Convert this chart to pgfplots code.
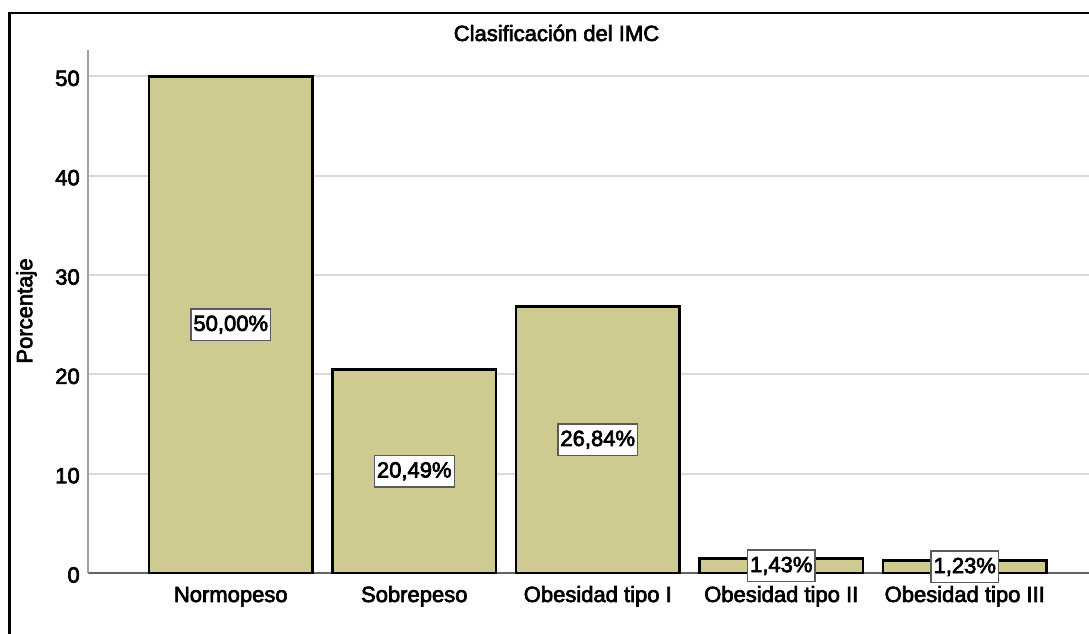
\documentclass[border=0pt]{standalone}
\usepackage{pgfplots}
\pgfplotsset{compat=1.18}
\usepackage{pgfplotstable}
\usepackage{fontspec}
\setmainfont{Liberation Sans}[FakeBold=3]
\definecolor{barfill}{RGB}{207,202,143}
\definecolor{gridgray}{RGB}{217,217,217}
\definecolor{xaxisgray}{RGB}{100,100,100}
\definecolor{yaxisgray}{RGB}{160,160,160}
\definecolor{boxgray}{RGB}{90,90,90}
\pgfplotstableread{
idx val
0 50.00
1 20.49
2 26.84
3 1.43
4 1.23
}\imc
\begin{document}
\fontsize{16.5pt}{19pt}\selectfont
\begin{tikzpicture}[x=0.75pt,y=0.75pt]
\path[use as bounding box] (0,0) rectangle (1089,634);
\clip (0,0) rectangle (1089,634);
\begin{axis}[
  at={(66pt,45.75pt)}, anchor=south west,
  scale only axis, width=750.75pt, height=392.25pt,
  xmin=-0.778, xmax=4.677, ymin=0, ymax=52.65,
  axis x line*=bottom, axis y line*=left,
  x axis line style={draw=xaxisgray, line width=0.9pt},
  y axis line style={draw=yaxisgray, line width=1pt},
  xtick={0,1,2,3,4},
  xticklabels={Normopeso,Sobrepeso,Obesidad tipo I,Obesidad tipo II,Obesidad tipo III},
  ytick={0,10,20,30,40,50},
  major tick length=0pt,
  ymajorgrids, major grid style={gridgray, line width=1.6pt},
  xticklabel style={anchor=base, inner sep=0pt, yshift=-21.75pt},
  yticklabel style={anchor=east, inner sep=0pt, xshift=-6pt, yshift=-1.5pt},
  /pgf/number format/assume math mode=true,
  tick label style={font=\fontsize{16.5pt}{19pt}\selectfont},
  clip=false,
]
\addplot[ybar, bar width=0.891, fill=barfill, draw=black, line width=2pt]
  table[x=idx, y=val]{\imc};
\addplot[draw=none, mark=none,
  nodes near coords={\pgfmathprintnumber[fixed, fixed zerofill, precision=2, use comma]{\pgfplotspointmeta}\%},
  point meta=explicit,
  every node near coord/.append style={anchor=center, fill=white, draw=boxgray, line width=1.1pt,
     inner xsep=2pt, inner ysep=5pt, text=black, font=\fontsize{16.5pt}{19pt}\selectfont}]
  table[x=idx, y expr=\thisrow{val}/2, meta=val]{\imc};
\end{axis}
\node[anchor=base, inner sep=0pt] at (556.5,593) {Clasificación del IMC};
\node[rotate=90, inner sep=0pt] at (26.5,323) {Porcentaje};
\draw[line width=1.9pt] (9.5,-10) -- (9.5,621) -- (1100,621);
\end{tikzpicture}
\end{document}
